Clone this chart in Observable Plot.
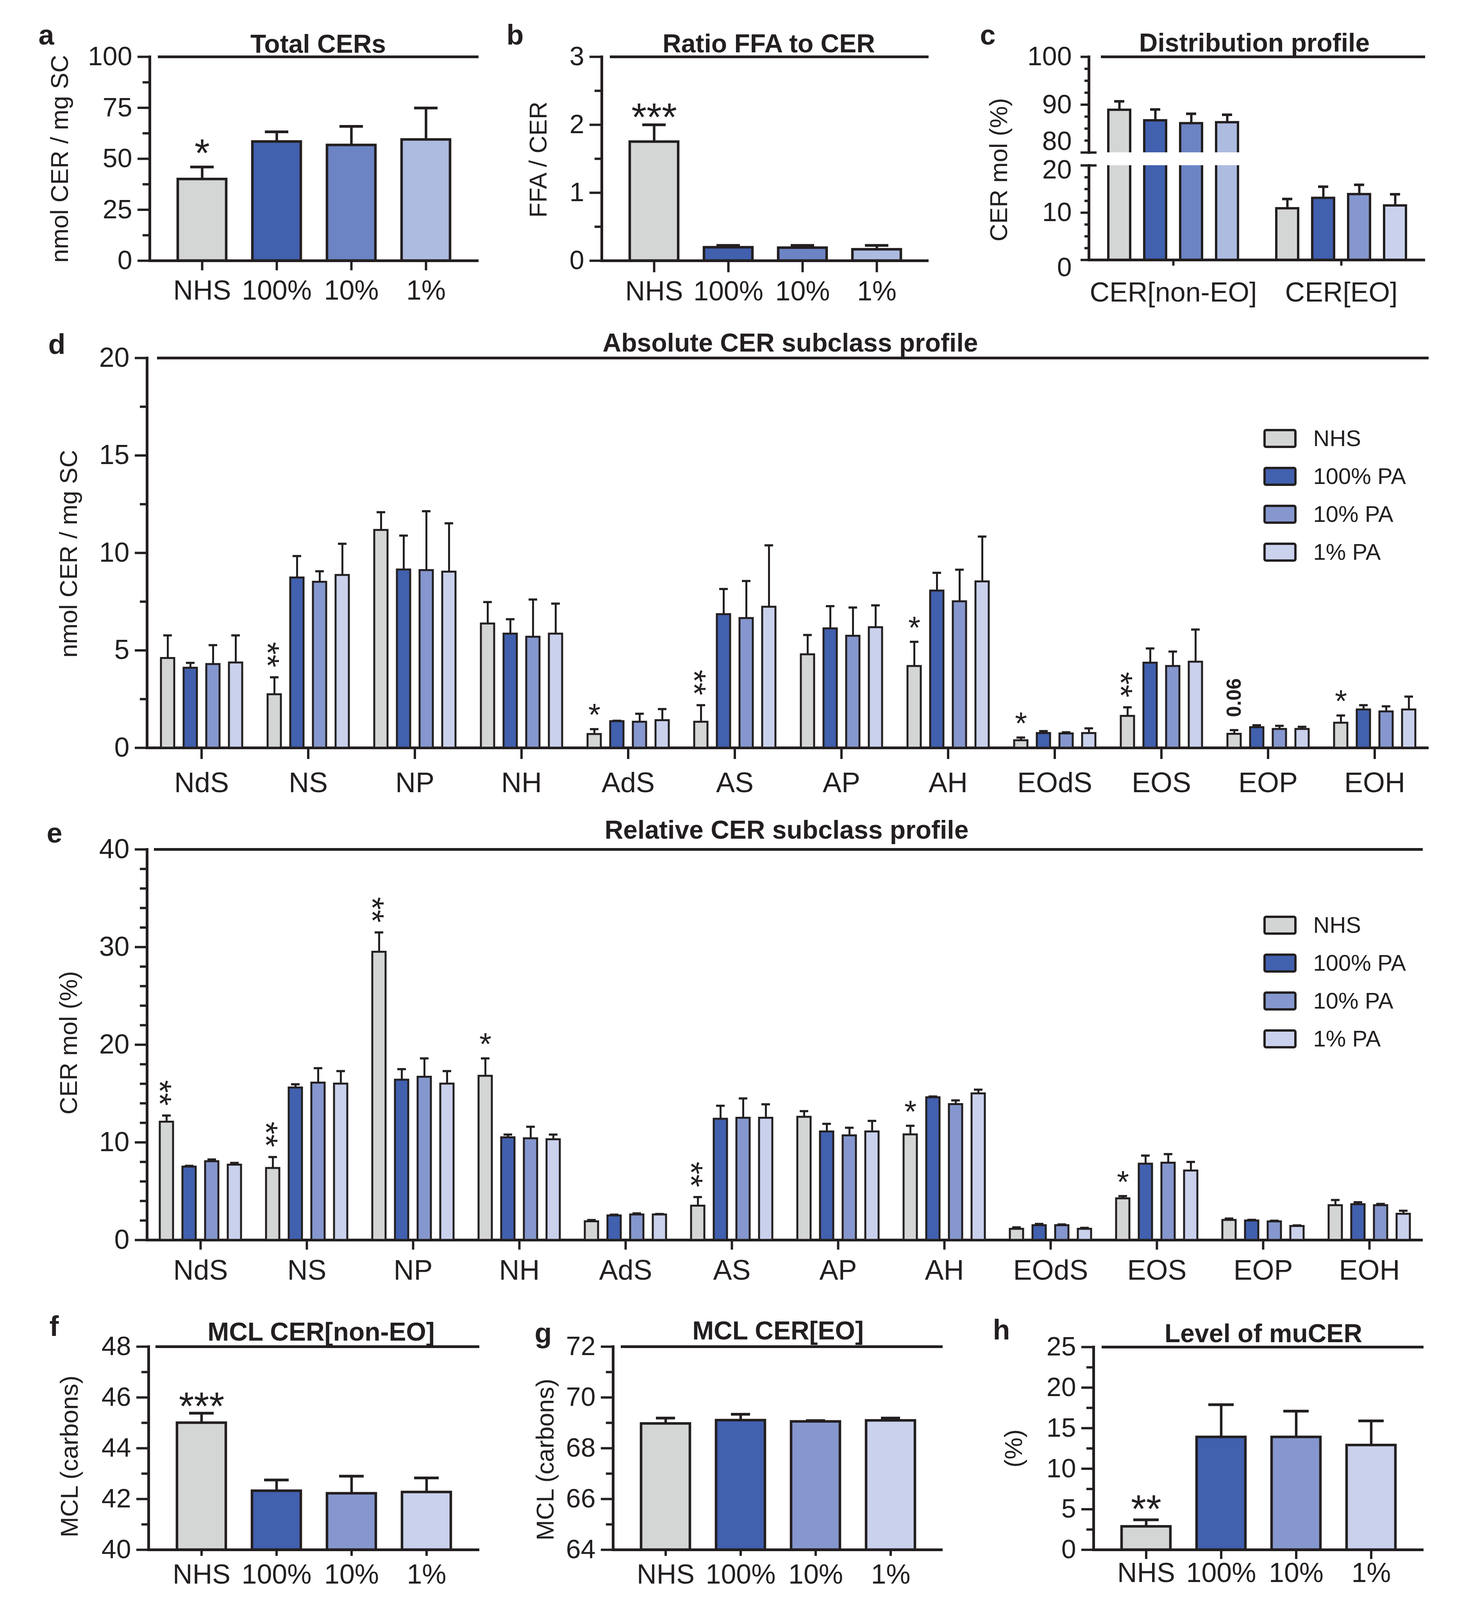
<!DOCTYPE html>
<html><head><meta charset="utf-8">
<script src="https://cdn.jsdelivr.net/npm/d3@7"></script>
<script src="https://cdn.jsdelivr.net/npm/@observablehq/plot@0.6"></script>
<style>
html,body{margin:0;padding:0;background:#fff;}
#fig{position:relative;width:3745px;height:4133px;background:#fff;overflow:hidden;}
#fig svg{position:absolute;left:0;top:0;max-width:none;}
</style></head><body><div id="fig"></div>
<script>
const W = 3745, H = 4133;
const INK = "#231f20";
const FONT = "'Liberation Sans', Arial, Helvetica, sans-serif";

// ---------- categories ----------
const treatments = ["NHS", "100%", "10%", "1%"];
const legendLabels = ["NHS", "100% PA", "10% PA", "1% PA"];
const subclasses = ["NdS","NS","NP","NH","AdS","AS","AP","AH","EOdS","EOS","EOP","EOH"];
const distGroups = ["CER[non-EO]", "CER[EO]"];

// ---------- colours ----------
const paletteA = ["#d4d5d5", "#4160ae", "#6c84c4", "#adbbe1"];
const paletteD = ["#d4d5d5", "#4160ae", "#8597ce", "#c9d1ec"];

// ---------- a: total CERs ----------
const totalCER = [40.0, 58.4, 56.7, 59.4];
const totalCERErr = [6.0, 4.8, 9.2, 15.5];
const totalCERStars = ["*", "", "", ""];
// ---------- b: FFA / CER ----------
const ffaRatio = [1.75, 0.196, 0.19, 0.166];
const ffaRatioErr = [0.25, 0.03, 0.036, 0.06];
const ffaRatioStars = ["***", "", "", ""];
// ---------- c: distribution profile ----------
const distNonEO = [88.9, 86.7, 86.1, 86.3];
const distNonEOErr = [1.8, 2.3, 2.0, 1.6];
const distEO = [10.9, 13.1, 13.9, 11.5];
const distEOErr = [2.0, 2.4, 2.0, 2.4];
// ---------- d: absolute subclass profile ----------
const absNHS = [4.6, 2.74, 11.17, 6.37, 0.7, 1.33, 4.79, 4.19, 0.38, 1.63, 0.71, 1.28];
const absNHSErr = [1.17, 0.88, 0.92, 1.11, 0.26, 0.86, 1.0, 1.25, 0.15, 0.45, 0.2, 0.38];
const abs100 = [4.1, 8.73, 9.14, 5.85, 1.36, 6.85, 6.12, 8.06, 0.75, 4.36, 1.05, 1.96];
const abs100Err = [0.26, 1.11, 1.75, 0.75, 0.03, 1.3, 1.15, 0.92, 0.11, 0.74, 0.11, 0.23];
const abs10 = [4.29, 8.51, 9.11, 5.69, 1.33, 6.65, 5.74, 7.51, 0.73, 4.19, 0.96, 1.86];
const abs10Err = [0.98, 0.55, 3.03, 1.92, 0.42, 1.91, 1.46, 1.63, 0.07, 0.75, 0.17, 0.27];
const abs1 = [4.37, 8.86, 9.03, 5.85, 1.41, 7.23, 6.18, 8.53, 0.75, 4.41, 0.96, 1.96];
const abs1Err = [1.4, 1.61, 2.49, 1.55, 0.58, 3.16, 1.13, 2.31, 0.25, 1.66, 0.12, 0.67];
const absStars = ["", "**", "", "", "*", "**", "", "*", "*", "**", "0.06", "*"];
// ---------- e: relative subclass profile ----------
const relNHS = [12.1, 7.36, 29.5, 16.8, 1.9, 3.5, 12.6, 10.8, 1.13, 4.25, 2.04, 3.55];
const relNHSErr = [0.65, 1.14, 2.0, 1.8, 0.15, 0.9, 0.6, 0.9, 0.17, 0.25, 0.16, 0.55];
const rel100 = [7.5, 15.6, 16.4, 10.5, 2.5, 12.4, 11.1, 14.6, 1.5, 7.8, 1.98, 3.65];
const rel100Err = [0.1, 0.35, 1.1, 0.3, 0.1, 1.35, 0.8, 0.1, 0.15, 0.85, 0.09, 0.22];
const rel10 = [8.05, 16.1, 16.7, 10.4, 2.6, 12.5, 10.7, 13.9, 1.5, 7.9, 1.89, 3.55];
const rel10Err = [0.2, 1.5, 1.9, 1.2, 0.13, 2.0, 0.8, 0.4, 0.1, 0.9, 0.09, 0.15];
const rel1 = [7.7, 16.0, 16.0, 10.3, 2.6, 12.5, 11.1, 15.0, 1.13, 7.1, 1.42, 2.67];
const rel1Err = [0.2, 1.3, 1.3, 0.5, 0.07, 1.4, 1.1, 0.4, 0.12, 0.9, 0.08, 0.33];
const relStars = ["**", "**", "**", "*", "", "**", "", "*", "", "*", "", ""];
// ---------- f: MCL non-EO ----------
const mclNonEO = [45.0, 42.32, 42.22, 42.27];
const mclNonEOErr = [0.38, 0.43, 0.68, 0.56];
const mclNonEOStars = ["***", "", "", ""];
// ---------- g: MCL EO ----------
const mclEO = [68.97, 69.10, 69.05, 69.09];
const mclEOErr = [0.22, 0.24, 0.04, 0.10];
const mclEOStars = ["", "", "", ""];
// ---------- h: muCER ----------
const muCER = [2.87, 13.9, 13.9, 12.9];
const muCERErr = [0.83, 4.0, 3.2, 3.0];
const muCERStars = ["**", "", "", ""];

// ---------- helpers ----------
function page([L, T, R, B], opts) {
  const svg = Plot.plot({
    width: W, height: H,
    marginLeft: L, marginTop: T, marginRight: W - R, marginBottom: H - B,
    style: {background: "transparent", fontFamily: FONT, color: INK, overflow: "visible"},
    ...opts
  });
  document.getElementById("fig").appendChild(svg);
  return svg;
}

function yAxisMarks({major, minor, tickSize = 31, minorSize = 18, pad = 14, fontSize = 68}) {
  return [
    Plot.axisY({ticks: major, tickSize, tickPadding: pad, fontSize, strokeWidth: 6, label: null,
      tickFormat: d => String(d)}),
    Plot.axisY({ticks: minor, tickSize: minorSize, tickFormat: () => "", strokeWidth: 6, label: null})
  ];
}

function textMarks(c) {
  return [
    Plot.text([c.title], {text: d => d, frameAnchor: "top", textAnchor: "middle", lineAnchor: "middle",
      dx: c.titleDx, dy: c.titleDy, fontSize: 66, fontWeight: "bold"}),
    Plot.text([c.letter], {text: d => d, frameAnchor: "top-left", textAnchor: "middle", lineAnchor: "middle",
      dx: c.letterDx, dy: c.letterDy, fontSize: 72, fontWeight: "bold"}),
  ];
}
function ylabelMark(c) {
  return Plot.text([c.ylabel], {text: d => d, frameAnchor: "left", textAnchor: "middle", lineAnchor: "middle",
    rotate: -90, dx: c.ylabelDx, dy: c.ylabelDy || 0, fontSize: 63});
}

function simplePanel(c) {
  const rows = treatments.map((s, i) => ({s, v: c.values[i], e: c.errors[i], star: c.stars[i]}));
  const [y0, y1] = c.domain;
  page(c.frame, {
    x: {type: "band", domain: treatments, paddingInner: 0.35, paddingOuter: 0.37, axis: null},
    y: {domain: c.domain, axis: null, label: null},
    color: {domain: treatments, range: c.palette},
    marks: [
      Plot.barY(rows, {x: "s", y1: () => y0, y2: "v", fill: "s", stroke: INK, strokeWidth: 6.5}),
      Plot.ruleX(rows, {x: "s", y1: "v", y2: d => d.v + d.e, stroke: INK, strokeWidth: 6.5}),
      Plot.tickY(rows, {x: "s", y: d => d.v + d.e, stroke: INK, strokeWidth: 7,
        insetLeft: c.capInset, insetRight: c.capInset}),
      Plot.frame({anchor: "left", stroke: INK, strokeWidth: 7}),
      Plot.ruleY([y0], {stroke: INK, strokeWidth: 7}),
      Plot.ruleY([y1], {stroke: INK, strokeWidth: 7, insetLeft: c.lineInset}),
      ...yAxisMarks({major: c.major, minor: c.minor}),
      Plot.axisX({tickSize: c.xTick, tickPadding: c.xPad, fontSize: 70, strokeWidth: 6, label: null}),
      Plot.text(rows.filter(d => d.star), {x: "s", y: d => d.v + d.e, text: "star", lineAnchor: "middle",
        dy: c.starDy, fontSize: 100}),
      ...textMarks(c),
      ylabelMark(c)
    ]
  });
}

function legendPlot(frame) {
  page(frame, {
    y: {type: "band", domain: legendLabels, paddingInner: 0.557, paddingOuter: 0.278, axis: null},
    color: {domain: legendLabels, range: paletteD},
    marks: [
      Plot.cell(legendLabels, {y: d => d, fill: d => d, stroke: INK, strokeWidth: 6, rx: 4}),
      Plot.text(legendLabels, {y: d => d, text: d => d, frameAnchor: "right", textAnchor: "start",
        lineAnchor: "middle", dx: 45, fontSize: 58})
    ]
  });
}

function subclassPanel(c) {
  const rows = [];
  subclasses.forEach((g, i) => c.series.forEach(([vals, errs], k) =>
    rows.push({g, s: treatments[k], v: vals[i], e: errs[i]})));
  const ann = subclasses.map((g, i) => ({g, s: "NHS", y: c.series[0][0][i] + c.series[0][1][i], t: c.stars[i]}))
    .filter(d => d.t);
  // axes layer
  page(c.frame, {
    x: {type: "band", domain: subclasses, padding: 0, axis: null},
    y: {domain: c.domain, axis: null, label: null},
    marks: [
      Plot.frame({anchor: "left", stroke: INK, strokeWidth: 7}),
      Plot.ruleY([c.domain[0]], {stroke: INK, strokeWidth: 7}),
      Plot.ruleY([c.domain[1]], {stroke: INK, strokeWidth: 7, insetLeft: c.lineInset}),
      ...yAxisMarks({major: c.major, minor: c.minor, fontSize: 70}),
      Plot.axisX({tickSize: c.xTick, tickPadding: c.xPad, fontSize: 72, strokeWidth: 6, label: null}),
      ...textMarks(c),
      ylabelMark(c)
    ]
  });
  // bars layer (faceted by subclass)
  page(c.frame, {
    fx: {domain: subclasses, padding: 0, axis: null},
    x: {type: "band", domain: treatments, paddingInner: 0.417, paddingOuter: 0.553, axis: null},
    y: {domain: c.domain, axis: null, label: null},
    color: {domain: treatments, range: paletteD},
    marks: [
      Plot.barY(rows, {fx: "g", x: "s", y: "v", fill: "s", stroke: INK, strokeWidth: 5}),
      Plot.ruleX(rows, {fx: "g", x: "s", y1: "v", y2: d => d.v + d.e, stroke: INK, strokeWidth: 5}),
      Plot.tickY(rows, {fx: "g", x: "s", y: d => d.v + d.e, stroke: INK, strokeWidth: 5.5, insetLeft: 6, insetRight: 6}),
      Plot.text(ann.filter(d => d.t === "*"), {fx: "g", x: "s", y: "y", text: "t", lineAnchor: "middle", dy: -35, fontSize: 80}),
      // stacked (vertical) double asterisks
      Plot.text(ann.filter(d => d.t === "**"), {fx: "g", x: "s", y: "y", text: "t", rotate: 90,
        textAnchor: "middle", lineAnchor: "middle", dx: -20, dy: -58, fontSize: 84}),
      Plot.text(ann.filter(d => d.t.includes(".")), {fx: "g", x: "s", y: "y", text: "t", rotate: -90,
        lineAnchor: "middle", dy: -83, fontSize: 51, fontWeight: "bold"})
    ]
  });
  legendPlot(c.legendFrame);
}

// ---------- panel a ----------
simplePanel({
  frame: [383, 145, 1225, 667], domain: [0, 100], major: [0, 25, 50, 75, 100], minor: [12.5, 37.5, 62.5, 87.5],
  values: totalCER, errors: totalCERErr, stars: totalCERStars, palette: paletteA,
  capInset: 32, lineInset: 21, xTick: 25, xPad: 25, starDy: -33,
  title: "Total CERs", titleDx: 10, titleDy: -32, letter: "a", letterDx: -265, letterDy: -55,
  ylabel: "nmol CER / mg SC", ylabelDx: -230
});
// ---------- panel b ----------
simplePanel({
  frame: [1540, 145, 2377, 667], domain: [0, 3], major: [0, 1, 2, 3], minor: [0.5, 1.5, 2.5],
  values: ffaRatio, errors: ffaRatioErr, stars: ffaRatioStars, palette: paletteA,
  capInset: 32, lineInset: 21, xTick: 30, xPad: 22, starDy: -18,
  title: "Ratio FFA to CER", titleDx: 9, titleDy: -33, letter: "b", letterDx: -222, letterDy: -55,
  ylabel: "FFA / CER", ylabelDx: -162, ylabelDy: 2
});
// ---------- panel c (broken axis) ----------
(function () {
  const rows = [];
  distGroups.forEach((g, gi) => {
    const vals = gi === 0 ? distNonEO : distEO, errs = gi === 0 ? distNonEOErr : distEOErr;
    treatments.forEach((s, i) => rows.push({g, s, key: g + "|" + s, v: vals[i], e: errs[i]}));
  });
  const keys = rows.map(d => d.key);
  const colorRange = [...paletteA, ...paletteD];
  const topFrame = [2787, 145, 3648, 390], botFrame = [2787, 423, 3648, 665];
  const fw = 3648 - 2787;
  const cfg = {title: "Distribution profile", titleDx: -7, titleDy: -35, letter: "c", letterDx: -259, letterDy: -55};
  const barLayer = (domain) => ({
    fx: {domain: distGroups, padding: 0, axis: null},
    x: {type: "band", domain: treatments, paddingInner: 0.387, paddingOuter: 0.508, axis: null},
    y: {domain, axis: null, label: null},
    color: {domain: keys, range: colorRange},
    marks: [
      Plot.barY(rows, {fx: "g", x: "s", y: "v", fill: "key", stroke: INK, strokeWidth: 6, clip: true}),
      Plot.ruleX(rows, {fx: "g", x: "s", y1: "v", y2: d => d.v + d.e, stroke: INK, strokeWidth: 6, clip: true}),
      Plot.tickY(rows, {fx: "g", x: "s", y: d => d.v + d.e, stroke: INK, strokeWidth: 6.5, insetLeft: 15, insetRight: 15, clip: true})
    ]
  });
  // upper segment axes
  page(topFrame, {
    y: {domain: [80, 100], axis: null, label: null},
    marks: [
      Plot.frame({anchor: "left", stroke: INK, strokeWidth: 7}),
      Plot.ruleY([100], {stroke: INK, strokeWidth: 7, insetLeft: 31}),
      Plot.axisY({ticks: [80, 90, 100], tickSize: 21, tickFormat: () => "", strokeWidth: 6, label: null}),
      Plot.axisY({ticks: [82.5, 85, 87.5, 92.5, 95, 97.5], tickSize: 11, tickFormat: () => "", strokeWidth: 6, label: null}),
      Plot.ruleY([80], {stroke: INK, strokeWidth: 6, insetRight: fw - 20}),
      Plot.text([90, 100], {y: d => d, text: d => String(d), frameAnchor: "left", textAnchor: "end", lineAnchor: "middle", dx: -44, fontSize: 68}),
      Plot.text([80], {y: d => d, text: d => String(d), frameAnchor: "left", textAnchor: "end", lineAnchor: "middle", dx: -44, dy: -28, fontSize: 68}),
      ...textMarks(cfg)
    ]
  });
  page(topFrame, barLayer([80, 100]));
  // lower segment axes
  page(botFrame, {
    x: {type: "band", domain: distGroups, padding: 0, axis: null},
    y: {domain: [0, 20], axis: null, label: null},
    marks: [
      Plot.frame({anchor: "left", stroke: INK, strokeWidth: 7}),
      Plot.ruleY([0], {stroke: INK, strokeWidth: 7}),
      Plot.axisY({ticks: [0, 10, 20], tickSize: 21, tickFormat: () => "", strokeWidth: 6, label: null}),
      Plot.axisY({ticks: [2.5, 5, 7.5, 12.5, 15, 17.5], tickSize: 11, tickFormat: () => "", strokeWidth: 6, label: null}),
      Plot.ruleY([20], {stroke: INK, strokeWidth: 6, insetRight: fw - 20}),
      Plot.text([10], {y: d => d, text: d => String(d), frameAnchor: "left", textAnchor: "end", lineAnchor: "middle", dx: -44, fontSize: 68}),
      Plot.text([20], {y: d => d, text: d => String(d), frameAnchor: "left", textAnchor: "end", lineAnchor: "middle", dx: -44, dy: 12, fontSize: 68}),
      Plot.text([0], {y: d => d, text: d => String(d), frameAnchor: "left", textAnchor: "end", lineAnchor: "middle", dx: -44, dy: 20, fontSize: 68}),
      Plot.axisX({tickSize: 15, tickPadding: 42, fontSize: 70, strokeWidth: 6, label: null}),
      ylabelMark({ylabel: "CER mol (%)", ylabelDx: -230, ylabelDy: -110})
    ]
  });
  page(botFrame, barLayer([0, 20]));
})();
// ---------- panel d ----------
subclassPanel({
  frame: [376, 916, 3657, 1914], domain: [0, 20], major: [0, 5, 10, 15, 20], minor: [2.5, 7.5, 12.5, 17.5],
  series: [[absNHS, absNHSErr], [abs100, abs100Err], [abs10, abs10Err], [abs1, abs1Err]], stars: absStars,
  lineInset: 26, xTick: 29, xPad: 33,
  title: "Absolute CER subclass profile", titleDx: 6, titleDy: -38, letter: "d", letterDx: -231, letterDy: -34,
  ylabel: "nmol CER / mg SC", ylabelDx: -200, ylabelDy: 2,
  legendFrame: [3237, 1073.5, 3316, 1461.5]
});
// ---------- panel e ----------
subclassPanel({
  frame: [376, 2174, 3642, 3174], domain: [0, 40], major: [0, 10, 20, 30, 40],
  minor: [2, 4, 6, 8, 12, 14, 16, 18, 22, 24, 26, 28, 32, 34, 36, 38],
  series: [[relNHS, relNHSErr], [rel100, rel100Err], [rel10, rel10Err], [rel1, rel1Err]], stars: relStars,
  lineInset: 18, xTick: 25, xPad: 25,
  title: "Relative CER subclass profile", titleDx: 4, titleDy: -49, letter: "e", letterDx: -237, letterDy: -41,
  ylabel: "CER mol (%)", ylabelDx: -200, ylabelDy: -5,
  legendFrame: [3237, 2318.5, 3316, 2708.5]
});
// ---------- panel f ----------
simplePanel({
  frame: [380, 3447, 1227, 3967], domain: [40, 48], major: [40, 42, 44, 46, 48], minor: [41, 43, 45, 47],
  values: mclNonEO, errors: mclNonEOErr, stars: mclNonEOStars, palette: paletteD,
  capInset: 31, lineInset: 18, xTick: 16, xPad: 21, starDy: -16,
  title: "MCL CER[non-EO]", titleDx: 18, titleDy: -37, letter: "f", letterDx: -242, letterDy: -51,
  ylabel: "MCL (carbons)", ylabelDx: -202, ylabelDy: 21
});
// ---------- panel g ----------
simplePanel({
  frame: [1569, 3447, 2413, 3967], domain: [64, 72], major: [64, 66, 68, 70, 72], minor: [65, 67, 69, 71],
  values: mclEO, errors: mclEOErr, stars: mclEOStars, palette: paletteD,
  capInset: 38, lineInset: 20, xTick: 16, xPad: 21, starDy: -20,
  title: "MCL CER[EO]", titleDx: 0, titleDy: -40, letter: "g", letterDx: -179, letterDy: -34,
  ylabel: "MCL (carbons)", ylabelDx: -173, ylabelDy: 29
});
// ---------- panel h ----------
simplePanel({
  frame: [2799, 3448, 3644, 3967], domain: [0, 25], major: [0, 5, 10, 15, 20, 25], minor: [2.5, 7.5, 12.5, 17.5, 22.5],
  values: muCER, errors: muCERErr, stars: muCERStars, palette: paletteD,
  capInset: 30, lineInset: 21, xTick: 24, xPad: 9, starDy: -26,
  title: "Level of muCER", titleDx: 12, titleDy: -34, letter: "h", letterDx: -236, letterDy: -43,
  ylabel: "(%)", ylabelDx: -204, ylabelDy: 0
});
</script></body></html>
